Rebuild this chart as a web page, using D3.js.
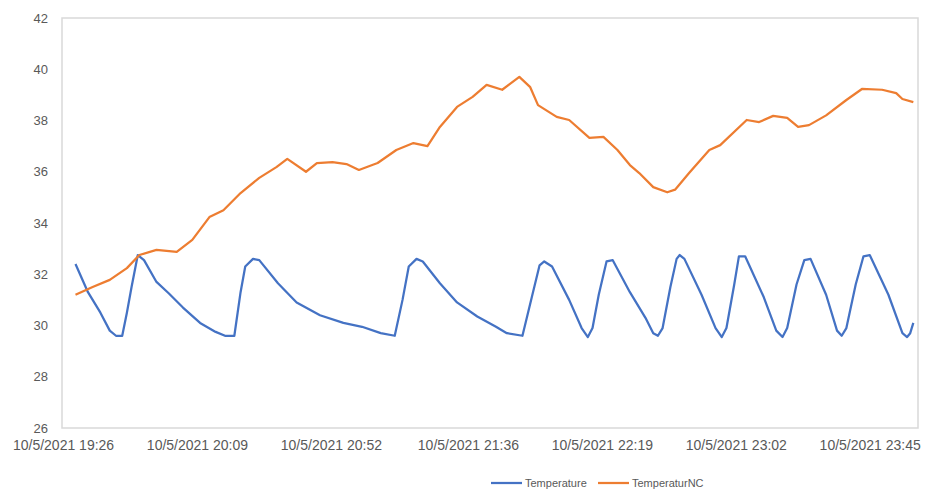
<!DOCTYPE html>
<html>
<head>
<meta charset="utf-8">
<script src="https://cdn.jsdelivr.net/npm/d3@7"></script>
<style>
    body { margin: 0; background: #fff; }
    svg text { font-family: "Liberation Sans", Arial, sans-serif; fill: #595959; }
</style>
</head>
<body>
<svg id="chart"></svg>
<script>
// readings (10/5/2021), time of day
const tempTimes = ["19:30", "19:34", "19:38", "19:41", "19:43", "19:45", "19:46:30", "19:48", "19:50", "19:52",
    "19:56", "20:00", "20:04:30", "20:10", "20:15", "20:18", "20:21", "20:23", "20:24:30", "20:27",
    "20:29", "20:35", "20:41", "20:48:30", "20:56", "21:02", "21:08", "21:12:30", "21:15", "21:17",
    "21:19:30", "21:21:30", "21:27", "21:32:30", "21:39", "21:45", "21:48:30", "21:53:30", "21:56:30", "21:59",
    "22:00:30", "22:03", "22:08:30", "22:12:30", "22:14:30", "22:16", "22:18", "22:20:30", "22:22:30", "22:28",
    "22:33", "22:35:30", "22:37", "22:38:30", "22:41", "22:43", "22:44", "22:45:30", "22:51", "22:55:30",
    "22:57:30", "22:59", "23:01:30", "23:03", "23:05", "23:11", "23:15", "23:17", "23:18:30", "23:21:30",
    "23:24", "23:26", "23:31", "23:34:30", "23:36", "23:37:30", "23:40:30", "23:43", "23:45", "23:51",
    "23:55:30", "23:57", "23:58", "23:59"];
const tempValues = [32.4, 31.3, 30.5, 29.8, 29.6, 29.6, 30.5, 31.5, 32.75, 32.55,
    31.7, 31.25, 30.7, 30.1, 29.75, 29.6, 29.6, 31.3, 32.3, 32.6,
    32.55, 31.65, 30.9, 30.4, 30.1, 29.95, 29.7, 29.6, 31.0, 32.3,
    32.6, 32.5, 31.65, 30.9, 30.35, 29.95, 29.7, 29.6, 31.1, 32.35,
    32.5, 32.3, 31.0, 29.9, 29.55, 29.9, 31.2, 32.5, 32.55, 31.3,
    30.3, 29.7, 29.6, 29.9, 31.5, 32.6, 32.75, 32.6, 31.2, 29.9,
    29.55, 29.9, 31.6, 32.7, 32.7, 31.1, 29.8, 29.55, 29.9, 31.6,
    32.55, 32.6, 31.2, 29.8, 29.6, 29.9, 31.6, 32.7, 32.75, 31.2,
    29.7, 29.55, 29.7, 30.1];

const ncTimes = ["19:30", "19:35:30", "19:41", "19:46:30", "19:50:30", "19:56", "20:02:30", "20:07:30", "20:13", "20:17:30",
    "20:23", "20:29", "20:34:30", "20:38", "20:44", "20:47:30", "20:52:30", "20:57", "21:01", "21:07",
    "21:13", "21:18:30", "21:23", "21:27", "21:32:30", "21:37:30", "21:42", "21:47", "21:52:30", "21:56",
    "21:58:30", "22:04:30", "22:08:30", "22:15", "22:19:30", "22:24", "22:28", "22:31", "22:35:30", "22:40",
    "22:42:30", "22:47", "22:53:30", "22:57", "23:05:30", "23:09:30", "23:14", "23:18:30", "23:22", "23:25:30",
    "23:31", "23:37:30", "23:42:30", "23:49", "23:53:30", "23:55:30", "23:59"];
const ncValues = [31.2, 31.5, 31.78, 32.24, 32.75, 32.95, 32.87, 33.34, 34.23, 34.5,
    35.17, 35.76, 36.18, 36.5, 36.0, 36.34, 36.38, 36.3, 36.07, 36.34,
    36.85, 37.12, 37.0, 37.75, 38.53, 38.92, 39.39, 39.2, 39.7, 39.3,
    38.6, 38.14, 38.02, 37.32, 37.36, 36.85, 36.26, 35.95, 35.4, 35.2,
    35.3, 35.95, 36.85, 37.04, 38.02, 37.94, 38.18, 38.1, 37.75, 37.82,
    38.2, 38.8, 39.23, 39.2, 39.07, 38.84, 38.72];

const tickTimes = ["19:26", "20:09", "20:52", "21:36", "22:19", "23:02", "23:45"];
const yTicks = [26, 28, 30, 32, 34, 36, 38, 40, 42];
const seriesNames = ["Temperature", "TemperaturNC"];
const seriesColors = ["#4472C4", "#ED7D31"];

const width = 925, height = 494;
const margin = { top: 18, right: 7, bottom: 66, left: 62 };

const parseTime = s => {
    const p = s.split(":").map(Number);
    return new Date(2021, 9, 5, p[0], p[1], p[2] || 0);
};

const series = [
    tempTimes.map((t, i) => ({ date: parseTime(t), value: tempValues[i] })),
    ncTimes.map((t, i) => ({ date: parseTime(t), value: ncValues[i] }))
];

const svg = d3.select("#chart")
    .attr("width", width)
    .attr("height", height);

// time axis runs from just before 19:26 up to midnight
const x = d3.scaleTime()
    .domain([new Date(2021, 9, 5, 19, 25, 40), new Date(2021, 9, 6, 0, 0, 30)])
    .range([margin.left, width - margin.right]);
const y = d3.scaleLinear()
    .domain([26, 42])
    .range([height - margin.bottom, margin.top]);

// plot area border
svg.append("rect")
    .attr("x", margin.left)
    .attr("y", margin.top)
    .attr("width", width - margin.left - margin.right)
    .attr("height", height - margin.top - margin.bottom)
    .attr("fill", "none")
    .attr("stroke", "#d9d9d9")
    .attr("stroke-width", 1.5);

const yAxis = d3.axisLeft(y).tickValues(yTicks).tickSize(0).tickPadding(14);
svg.append("g")
    .attr("transform", `translate(${margin.left},0)`)
    .call(yAxis)
    .call(g => g.select(".domain").remove())
    .selectAll("text")
    .attr("font-size", 13);

const xAxis = d3.axisBottom(x)
    .tickValues(tickTimes.map(parseTime))
    .tickFormat(d => "10/5/2021 " + d3.timeFormat("%H:%M")(d))
    .tickSize(0)
    .tickPadding(12);
svg.append("g")
    .attr("transform", `translate(0,${height - margin.bottom})`)
    .call(xAxis)
    .call(g => g.select(".domain").remove())
    .selectAll("text")
    .attr("font-size", 14);

const line = d3.line().x(d => x(d.date)).y(d => y(d.value));

svg.selectAll(".series")
    .data(series)
    .join("path")
    .attr("class", "series")
    .attr("d", line)
    .attr("fill", "none")
    .attr("stroke", (d, i) => seriesColors[i])
    .attr("stroke-width", 2.25)
    .attr("stroke-linejoin", "round");

// legend
const legend = svg.append("g").attr("transform", `translate(491,${height - 7})`);
const items = legend.selectAll("g")
    .data(seriesNames)
    .join("g")
    .attr("transform", (d, i) => `translate(${i * 107},0)`);
items.append("line")
    .attr("x1", 0).attr("x2", 31)
    .attr("y1", -4).attr("y2", -4)
    .attr("stroke", (d, i) => seriesColors[i])
    .attr("stroke-width", 2.25);
items.append("text")
    .attr("x", 34)
    .attr("font-size", 11)
    .text(d => d);
</script>
</body>
</html>
